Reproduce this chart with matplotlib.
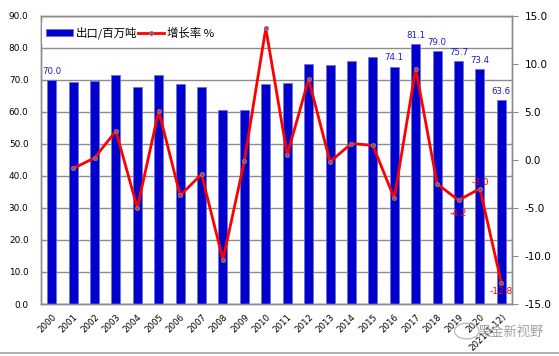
import matplotlib.pyplot as plt
import numpy as np

plt.rcParams['font.family'] = ['DejaVu Sans', 'Noto Sans CJK SC']

years = ['2000', '2001', '2002', '2003', '2004', '2005', '2006', '2007',
         '2008', '2009', '2010', '2011', '2012', '2013', '2014', '2015',
         '2016', '2017', '2018', '2019', '2020', '2021(1-12)']
exports = [70.0, 69.3, 69.6, 71.6, 67.8, 71.4, 68.7, 67.7, 60.6, 60.6, 68.8,
           69.1, 75.0, 74.7, 75.9, 77.2, 74.1, 81.1, 79.0, 75.7, 73.4, 63.6]
growth = [np.nan, -0.9, 0.2, 3.0, -5.0, 5.1, -3.7, -1.5, -10.4, -0.1, 13.7,
          0.5, 8.4, -0.2, 1.7, 1.5, -4.0, 9.5, -2.5, -4.2, -3.0, -12.8]
bar_labelled = ['2000', '2016', '2017', '2018', '2019', '2020', '2021(1-12)']
line_labelled = {'2019': (0, -6, 'top'), '2020': (0, 1, 'bottom'),
                 '2021(1-12)': (0, -3, 'top')}

fig = plt.figure(figsize=(5.59, 3.56), dpi=100)
ax1 = fig.add_axes([0.0733, 0.146, 0.8427, 0.81])
ax2 = ax1.twinx()

x = np.arange(len(years))
ax1.bar(x, exports, width=0.42, color='#0000CC', edgecolor='#7070E0',
        linewidth=0.6, label='出口/百万吨', zorder=2)
ax1.set_ylim(0, 90)
ax1.set_yticks(np.arange(0, 91, 10))
ax1.set_yticklabels([f'{v:.1f}' for v in np.arange(0, 91, 10)], fontsize=6.4)
ax1.set_xlim(-0.5, len(years) - 0.5)
ax1.set_xticks(x)
ax1.set_xticklabels(years, rotation=45, ha='right', rotation_mode='anchor',
                    fontsize=6.2)
ax1.tick_params(axis='y', length=0, pad=9)
ax1.tick_params(axis='x', length=0, pad=6)
ax1.grid(axis='y', color='#8c8c8c', linewidth=1.0, zorder=0)
ax1.set_axisbelow(True)

for i, v in enumerate(exports):
    if years[i] in bar_labelled:
        ax1.annotate(f'{v:.1f}', (x[i], v), xytext=(0, 3),
                     textcoords='offset points', ha='center', va='bottom',
                     fontsize=6.2, color='#1a1acc')

ax2.plot(x, growth, color='#FF0000', linewidth=2, marker='o', markersize=3,
         markerfacecolor='#c04040', markeredgecolor='#7f7fa0',
         markeredgewidth=0.6, label='增长率 %', zorder=3)
ax2.set_ylim(-15, 15)
ax2.set_yticks(np.arange(-15, 16, 5))
ax2.set_yticklabels([f'{v:.1f}' for v in np.arange(-15, 16, 5)], fontsize=7.5)
ax2.tick_params(axis='y', length=4, color='#8c8c8c', pad=5)

for i, v in enumerate(growth):
    if years[i] in line_labelled:
        dx, dy, va = line_labelled[years[i]]
        ax2.annotate(f'{v:.1f}', (x[i], v), xytext=(dx, dy),
                     textcoords='offset points', ha='center', va=va,
                     fontsize=6.5, color='#FF0000')

for ax in (ax1, ax2):
    for sp in ax.spines.values():
        sp.set_color('#8c8c8c')
        sp.set_linewidth(1.0)

h1, l1 = ax1.get_legend_handles_labels()
h2, l2 = ax2.get_legend_handles_labels()
leg = ax2.legend(h1 + h2, l1 + l2, loc='upper left', ncol=2, frameon=True,
                 fancybox=False, edgecolor='none', facecolor='white',
                 framealpha=1, handlelength=2.3, handleheight=0.6,
                 columnspacing=0.1, handletextpad=0.25,
                 borderaxespad=0.2, bbox_to_anchor=(-0.003, 0.985),
                 prop={'family': ['Noto Sans CJK SC', 'DejaVu Sans'],
                       'size': 8.2})

# watermark and bottom border
fig.add_artist(plt.Circle((0.835, 0.07), 0.022, transform=fig.transFigure,
                          fill=False, edgecolor='#b0b0b0', linewidth=0.8))
fig.text(0.853, 0.067, '黑金新视野', fontsize=9.5, color='#a0a0a0',
         family=['Noto Sans CJK SC'], ha='left', va='center')
fig.add_artist(plt.Line2D([0, 1], [0.008, 0.008], color='#a0a0a0',
                          linewidth=1.2, transform=fig.transFigure))

fig.savefig('out.png', dpi=100)
